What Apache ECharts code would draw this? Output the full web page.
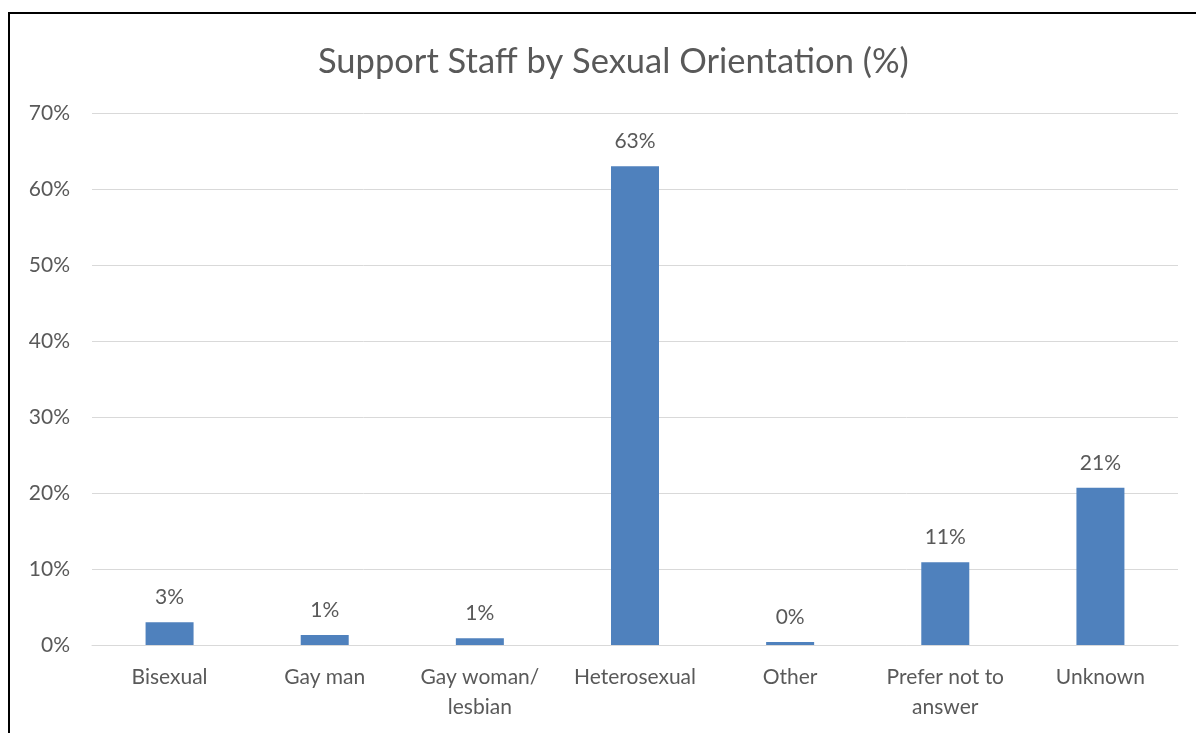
<!DOCTYPE html>
<html>
<head>
<meta charset="utf-8">
<script src="https://cdn.jsdelivr.net/npm/echarts@6/dist/echarts.min.js"></script>
<style>
  html, body { margin: 0; padding: 0; background: #fff; }
  #chart { width: 1196px; height: 733px; }
</style>
</head>
<body>
<div id="chart"></div>
<script>
// Support staff share by sexual orientation (percent)
const categories = ['Bisexual', 'Gay man', 'Gay woman/\nlesbian', 'Heterosexual', 'Other', 'Prefer not to\nanswer', 'Unknown'];
const shares = [3.0, 1.3, 0.9, 63.0, 0.4, 10.9, 20.7];
const yTicks = [0, 10, 20, 30, 40, 50, 60, 70];

const font = 'Lato, "Open Sans", sans-serif';
const textColor = '#595959';

const chart = echarts.init(document.getElementById('chart'));
chart.setOption({
  animation: false,
  backgroundColor: '#fff',
  graphic: [{
    type: 'rect',
    shape: { x: 9, y: 13, width: 1300, height: 900 },
    style: { fill: 'none', stroke: '#000', lineWidth: 2 },
    silent: true
  }],
  title: {
    text: 'Support Staff by Sexual Orientation (%)',
    left: 313,
    top: 39,
    textStyle: { fontFamily: font, fontSize: 34.5, fontWeight: 'normal', color: textColor }
  },
  grid: { left: 92, right: 18, top: 113, bottom: 88, containLabel: false },
  xAxis: {
    type: 'category',
    data: categories,
    axisLine: { show: true, lineStyle: { color: '#D9D9D9', width: 1 } },
    axisTick: { show: false },
    axisLabel: { fontFamily: font, fontSize: 21, color: textColor, margin: 17, lineHeight: 30, interval: 0 }
  },
  yAxis: {
    type: 'value',
    min: yTicks[0],
    max: yTicks[yTicks.length - 1],
    interval: 10,
    axisLine: { show: false },
    axisTick: { show: false },
    splitLine: { lineStyle: { color: '#D9D9D9', width: 1 } },
    axisLabel: { fontFamily: font, fontSize: 21, color: textColor, margin: 22, formatter: v => v + '%' }
  },
  series: [{
    type: 'bar',
    data: shares,
    barWidth: 48,
    itemStyle: { color: '#4F81BD' },
    label: {
      show: true,
      position: 'top',
      distance: 14,
      fontFamily: font,
      fontSize: 21,
      color: textColor,
      formatter: p => Math.round(p.value) + '%'
    }
  }]
});
</script>
</body>
</html>
